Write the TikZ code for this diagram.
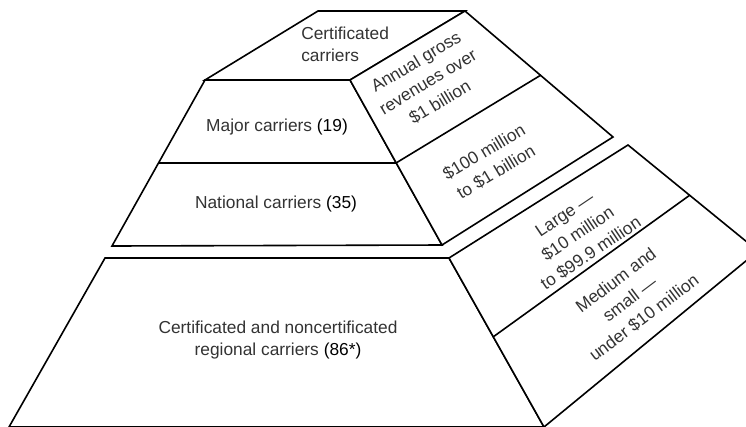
\documentclass[tikz,border=0pt]{standalone}
\usepackage{fontspec}
\setmainfont{Liberation Sans}
\usepackage{tikz}

\begin{document}
\begin{tikzpicture}[x=0.75pt, y=-0.75pt, every node/.style={font=\fontsize{13}{16.5}\selectfont, align=center, inner sep=0pt, text=black!80}]
\tikzstyle{face}=[draw, line width=1.2pt, line join=miter, fill=white]
\tikzstyle{divider}=[draw, line width=1.2pt]
\tikzstyle{sidetext}=[font=\fontsize{13}{17.5}\selectfont]
\useasboundingbox (0,0) rectangle (746,426);
\clip (0,0) rectangle (746,426);

% upper block
\coordinate (topbl) at (318,11);
\coordinate (topbr) at (465,11);
\coordinate (upfl) at (205,80);
\coordinate (upfr) at (350,80);
\coordinate (upbl) at (112,246);
\coordinate (upbr) at (442,245);
\coordinate (upback) at (613,137);
\coordinate (majl) at (158,163);
\coordinate (majr) at (396,163);
\coordinate (majback) at (541,75);

% lower block
\coordinate (lowfl) at (105,258);
\coordinate (lowfr) at (449,258);
\coordinate (lowback) at (628,145);
\coordinate (lowcorner) at (758,251);
\coordinate (lowbl) at (9,427);
\coordinate (lowbr) at (544,427);
\coordinate (larl) at (493,337);
\coordinate (larback) at (690,195);

\path[face] (topbl) -- (topbr) -- (upfr) -- (upfl) -- cycle;
\path[face] (upfl) -- (upfr) -- (upbr) -- (upbl) -- cycle;
\path[face] (upfr) -- (topbr) -- (upback) -- (upbr) -- cycle;
\path[divider] (majl) -- (majr) -- (majback);

\path[face] (lowfl) -- (lowfr) -- (lowbr) -- (lowbl) -- cycle;
\path[face] (lowfr) -- (lowback) -- (lowcorner) -- (lowbr) -- cycle;
\path[divider] (larl) -- (larback);

% labels
\node[anchor=west, align=left] (certif) at (301,44) {Certificated\\carriers};
\node (major) at (277,127) {Major carriers {\color{black}(19)}};
\node (national) at (276,204) {National carriers {\color{black}(35)}};
\node (regional) at (278,340) {Certificated and noncertificated\\regional carriers {\color{black}(86*)}};
\node[sidetext, rotate=31] (annual) at (428,82) {Annual gross\\revenues over\\\$1 billion};
\node[sidetext, rotate=31] (hundred) at (490,162) {\$100 million\\to \$1 billion};
\node[sidetext, rotate=34] (large) at (578,234) {Large ---\\\$10 million\\to \$99.9 million};
\node[sidetext, rotate=37] (medium) at (630,299) {Medium and\\small ---\\under \$10 million};
\end{tikzpicture}
\end{document}
